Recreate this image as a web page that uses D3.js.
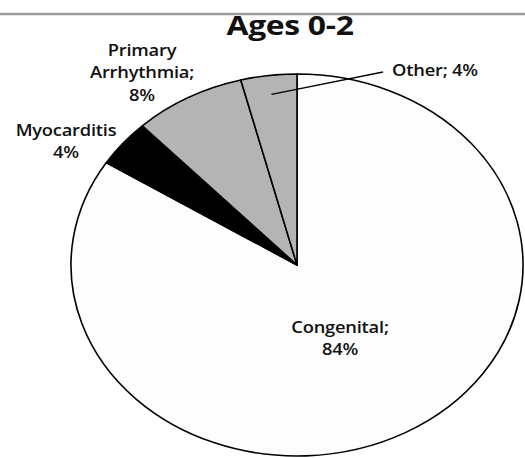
<!DOCTYPE html>
<html>
<head>
<meta charset="utf-8">
<script src="https://cdn.jsdelivr.net/npm/d3@7"></script>
<style>
  html, body { margin: 0; padding: 0; background: #fff; }
  svg { display: block; }
  text { font-family: "Open Sans", "DejaVu Sans", sans-serif; fill: #111; }
</style>
</head>
<body>
<svg id="chart" width="525" height="458"></svg>
<script>
// Causes of sudden cardiac death, ages 0-2
const causes = ["Congenital", "Myocarditis", "Primary Arrhythmia", "Other"];
const shares = [84, 4, 8, 4];
const labelLines = [["Congenital;", "84%"], ["Myocarditis", "4%"], ["Primary", "Arrhythmia;", "8%"], ["Other; 4%"]];
const fills = ["#fdfdfd", "#000000", "#b4b4b4", "#b4b4b4"];

const W = 525, H = 458;
const cx = 297, cy = 265, ry = 191, rx = 226;   // the pie is drawn as a horizontally stretched ellipse
const sx = rx / ry;

const svg = d3.select("#chart");

// grey rule across the top
svg.append("line")
  .attr("x1", 0).attr("x2", W).attr("y1", 14).attr("y2", 14)
  .attr("stroke", "#9a9a9a").attr("stroke-width", 2.5);

const data = causes.map((c, i) => ({ cause: c, value: shares[i], fill: fills[i], lines: labelLines[i] }));

const pie = d3.pie().value(d => d.value).sort(null);
const arcs = pie(data);
const arc = d3.arc().innerRadius(0).outerRadius(ry);

const g = svg.append("g").attr("transform", `translate(${cx},${cy}) scale(${sx},1)`);

g.selectAll("path.slice")
  .data(arcs)
  .join("path")
  .attr("class", "slice")
  .attr("d", arc)
  .attr("fill", d => d.data.fill)
  .attr("stroke", "#000")
  .attr("stroke-width", 1.6)
  .attr("stroke-linejoin", "round")
  .attr("vector-effect", "non-scaling-stroke");

// label anchors (screen coordinates) and line height
const labelAt = {
  "Congenital": [340, 333],
  "Myocarditis": [66, 136],
  "Primary Arrhythmia": [142, 56],
  "Other": [435, 76]
};
const lineH = 22.5;

arcs.forEach(a => {
  const [lx, ly] = labelAt[a.data.cause];
  const t = svg.append("text")
    .attr("transform", `translate(${lx},${ly}) scale(${sx},1)`)
    .attr("text-anchor", "middle")
    .attr("font-size", 15.5)
    .attr("font-weight", 600)
    .attr("letter-spacing", -0.2);
  a.data.lines.forEach((s, i) => {
    t.append("tspan").attr("x", 0).attr("y", i * lineH).text(s);
  });
});

// leader line for the "Other" slice, from inside the slice to its label
const other = arcs[3];
const inner = d3.arc().innerRadius(ry * 0.9).outerRadius(ry * 0.9).centroid(other);
svg.append("line")
  .attr("x1", cx + inner[0] * sx).attr("y1", cy + inner[1])
  .attr("x2", 383).attr("y2", 72)
  .attr("stroke", "#000").attr("stroke-width", 1.3);

// title
svg.append("text")
  .attr("transform", `translate(290,35) scale(${sx},1)`)
  .attr("text-anchor", "middle")
  .attr("font-size", 27)
  .attr("font-weight", 700)
  .attr("letter-spacing", -0.3)
  .text("Ages 0-2");
</script>
</body>
</html>
